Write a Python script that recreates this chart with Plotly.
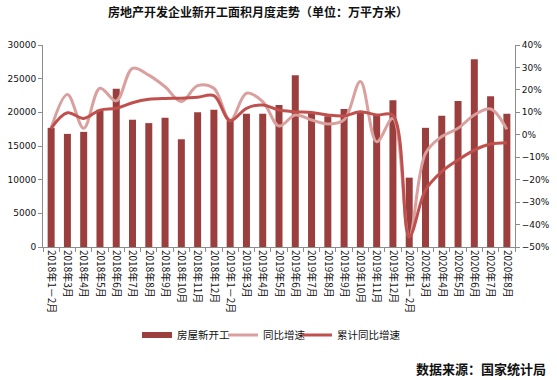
import plotly.graph_objects as go

months = ["2018年1－2月", "2018年3月", "2018年4月", "2018年5月", "2018年6月", "2018年7月",
          "2018年8月", "2018年9月", "2018年10月", "2018年11月", "2018年12月",
          "2019年1－2月", "2019年3月", "2019年4月", "2019年5月", "2019年6月", "2019年7月",
          "2019年8月", "2019年9月", "2019年10月", "2019年11月", "2019年12月",
          "2020年1－2月", "2020年3月", "2020年4月", "2020年5月", "2020年6月", "2020年7月",
          "2020年8月"]

new_starts = [17700, 16800, 17100, 20400, 23500, 18900, 18400, 19200, 16000, 20000, 20400,
              18800, 19800, 19800, 21100, 25500, 20000, 19400, 20500, 20100, 19600, 21800,
              10300, 17700, 19500, 21700, 27900, 22400, 19800]

yoy = [2.9, 18.0, 2.9, 20.7, 15.1, 29.6, 26.6, 21.4, 14.8, 21.9, 20.7,
       6.3, 18.5, 14.8, 3.9, 8.8, 6.6, 4.8, 6.6, 23.7, -3.1, 7.3,
       -45.4, -8.3, -0.8, 2.9, 8.8, 11.5, 2.4]

cum_yoy = [2.9, 9.8, 7.3, 11.0, 11.8, 14.3, 15.8, 16.2, 16.3, 16.7, 17.4,
           6.3, 11.8, 13.3, 11.0, 10.3, 9.9, 8.8, 8.4, 10.3, 8.8, 8.6,
           -45.4, -24.6, -16.4, -11.2, -6.8, -4.1, -3.5]

BAR = "#9B3F3E"
LIGHT = "#D9A09E"
DARK = "#C0504D"
font_cjk = "Noto Sans CJK SC"

W, H = 557, 380
L, R, T, B = 43, 42, 45, 133
PW = W - L - R   # 472
PH = H - T - B   # 202

fig = go.Figure()
fig.add_trace(go.Bar(x=months, y=new_starts, name="房屋新开工", marker_color=BAR,
                     marker_line_width=0, showlegend=False))
# legend-only entry drawn as a wide swatch like the original
fig.add_trace(go.Scatter(x=[None], y=[None], name="房屋新开工", mode="lines",
                         line=dict(color=BAR, width=6), legend="legend"))
fig.add_trace(go.Scatter(x=months, y=yoy, name="同比增速", yaxis="y2", mode="lines",
                         line=dict(color=LIGHT, width=3, shape="spline", smoothing=1.0),
                         legend="legend2"))
fig.add_trace(go.Scatter(x=months, y=cum_yoy, name="累计同比增速", yaxis="y2", mode="lines",
                         line=dict(color=DARK, width=3, shape="spline", smoothing=1.0),
                         legend="legend3"))

axis_col = "#8C8C8C"


def leg(px):
    return dict(orientation="h", x=(px - L) / PW, xanchor="left", y=-88 / PH,
                yanchor="middle", font=dict(family=font_cjk, size=10.5, color="#111"),
                itemwidth=30, bgcolor="rgba(0,0,0,0)")


fig.update_layout(
    width=W, height=H,
    margin=dict(l=L, r=R, t=T, b=B),
    paper_bgcolor="white", plot_bgcolor="white",
    bargap=0.57,
    showlegend=True,
    font=dict(family=font_cjk, size=10, color="#1a1a1a"),
    title=dict(text="<b>房地产开发企业新开工面积月度走势（单位：万平方米）</b>",
               x=258 / W, xanchor="center", y=1 - 13 / H, yanchor="middle",
               font=dict(family=font_cjk, size=12, color="#111")),
    xaxis=dict(type="category", tickangle=90, showline=True, linecolor=axis_col,
               ticks="outside", tickcolor=axis_col, ticklen=4, tickson="boundaries",
               showgrid=False, tickfont=dict(family=font_cjk, size=10, color="#111"),
               range=[-0.5, len(months) - 0.5], automargin=False),
    yaxis=dict(range=[0, 30000], dtick=5000, tickformat="d", showgrid=False,
               showline=True, linecolor=axis_col, ticks="outside", tickcolor=axis_col,
               ticklen=4, zeroline=False, automargin=False,
               tickfont=dict(family="DejaVu Sans", size=9, color="#111")),
    yaxis2=dict(range=[-50, 40], dtick=10, ticksuffix="%", overlaying="y", side="right",
                showgrid=False, showline=True, linecolor=axis_col, ticks="outside",
                tickcolor=axis_col, ticklen=4, zeroline=False, automargin=False,
                tickfont=dict(family="DejaVu Sans", size=9, color="#111")),
    legend=leg(137),
    legend2=leg(223),
    legend3=leg(297),
)

fig.add_annotation(text="<b>数据来源：国家统计局</b>", xref="paper", yref="paper",
                   x=(548 - L) / PW, xanchor="right", y=-121 / PH, yanchor="middle",
                   showarrow=False, font=dict(family=font_cjk, size=13, color="#111"))

fig.write_html("out.html", config={"displayModeBar": False},
               post_script="document.body.style.margin='0';")
